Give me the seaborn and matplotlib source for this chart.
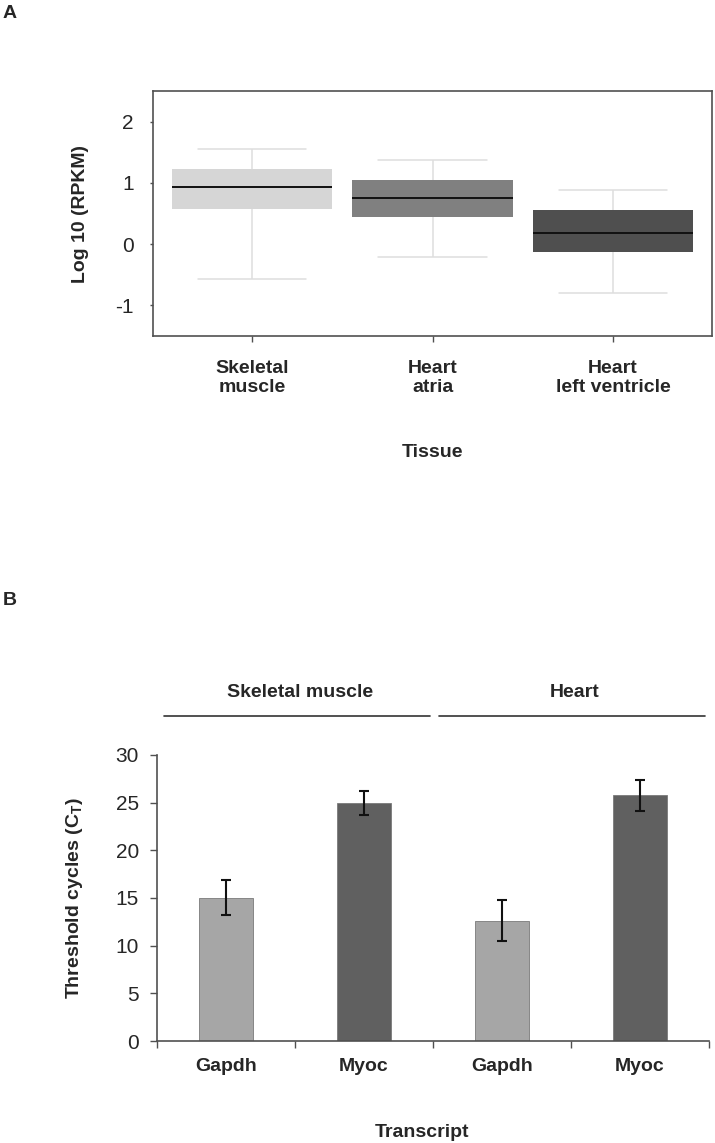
import matplotlib
matplotlib.use("Agg")
import matplotlib.pyplot as plt
from matplotlib import font_manager
import seaborn as sns
import pandas as pd
import numpy as np

# panel A: box summaries (log10 RPKM)
tissues = ["Skeletal\nmuscle", "Heart\natria", "Heart\nleft ventricle"]
box_low = [-0.57, -0.21, -0.80]
box_q1 = [0.58, 0.45, -0.13]
box_med = [0.93, 0.75, 0.18]
box_q3 = [1.22, 1.04, 0.56]
box_high = [1.55, 1.37, 0.89]
box_colors = ["#d6d6d6", "#808080", "#4f4f4f"]

# panel B: qPCR threshold cycles
groups = ["Skeletal muscle", "Skeletal muscle", "Heart", "Heart"]
transcripts = ["Gapdh", "Myoc", "Gapdh", "Myoc"]
ct_mean = [15.05, 24.95, 12.6, 25.75]
ct_err = [1.8, 1.25, 2.15, 1.65]
bar_colors = ["#a6a6a6", "#606060", "#a6a6a6", "#606060"]

sns.set_style("white")
names = {f.name for f in font_manager.fontManager.ttflist}
narrow = "Liberation Sans Narrow" if "Liberation Sans Narrow" in names else "Liberation Sans"
plt.rcParams["font.family"] = [narrow, "DejaVu Sans"]
plt.rcParams["axes.unicode_minus"] = False
wide = ["Liberation Sans", "DejaVu Sans"]
axcol = "#505050"

fig = plt.figure(figsize=(7.15, 11.43), dpi=100)

# ---------- A ----------
ax1 = fig.add_axes([0.214, 0.706, 0.782, 0.2144])
# five values per tissue -> quartiles land exactly on q1/med/q3 with whis=(0,100)
rows = []
for t, lo, q1, md, q3, hi in zip(tissues, box_low, box_q1, box_med, box_q3, box_high):
    for v in (lo, q1, md, q3, hi):
        rows.append({"tissue": t, "value": v})
dfa = pd.DataFrame(rows)
sns.boxplot(data=dfa, x="tissue", y="value", hue="tissue", palette=box_colors,
            order=tissues, hue_order=tissues, legend=False, width=0.89,
            whis=(0, 100), showfliers=False, ax=ax1,
            boxprops=dict(linewidth=0),
            whiskerprops=dict(color="#dedede", linewidth=1.1),
            capprops=dict(color="#dedede", linewidth=1.1),
            medianprops=dict(color="#111111", linewidth=1.4))
# wider caps, as in the original
for cont in ax1.containers:
    for cap in getattr(cont, "caps", []):
        xs = cap.get_xdata()
        c = np.mean(xs)
        cap.set_xdata([c - 0.3, c + 0.3])
ax1.set_xlim(-0.55, 2.55)
ax1.set_ylim(-1.5, 2.5)
ax1.set_yticks([-1, 0, 1, 2])
for s in ax1.spines.values():
    s.set_visible(True)
    s.set_color(axcol)
    s.set_linewidth(1.2)
ax1.tick_params(axis="y", left=True, length=2, width=1, color=axcol, pad=12, labelsize=15)
ax1.tick_params(axis="x", bottom=True, length=4, width=1, color=axcol, pad=13)
for lab in ax1.get_xticklabels():
    lab.set_fontweight("bold")
    lab.set_fontsize(14)
ax1.set_xlabel("Tissue", fontsize=14, fontweight="bold")
ax1.xaxis.set_label_coords(0.5, -0.44)
ax1.set_ylabel("Log 10 (RPKM)", fontsize=14, fontweight="bold", family=wide)
ax1.yaxis.set_label_coords(-0.115, 0.5)

# ---------- B ----------
ax2 = fig.add_axes([0.2196, 0.0892, 0.772, 0.2503])
keys = [f"{g} {t}" for g, t in zip(groups, transcripts)]
dfb = pd.DataFrame({"key": keys, "ct": ct_mean})
sns.barplot(data=dfb, x="key", y="ct", hue="key", palette=bar_colors, legend=False,
            width=0.39, edgecolor="#7a7a7a", linewidth=0.6, ax=ax2)
centers = [p.get_x() + p.get_width() / 2 for p in ax2.patches]
ax2.errorbar(centers, ct_mean, yerr=ct_err, fmt="none", ecolor="#111111",
             elinewidth=1.5, capsize=3.8, capthick=1.5)
ax2.set_xlim(-0.5, 3.5)
ax2.set_ylim(0, 30)
ax2.set_yticks(range(0, 31, 5))
sns.despine(ax=ax2)
for s in ("left", "bottom"):
    ax2.spines[s].set_color(axcol)
    ax2.spines[s].set_linewidth(1.2)
ax2.set_xticks(range(4))
ax2.set_xticklabels(transcripts, fontsize=14, fontweight="bold")
ax2.set_xticks(np.arange(-0.5, 4, 1), minor=True)
ax2.tick_params(axis="x", which="major", length=0, pad=12)
ax2.tick_params(axis="x", which="minor", bottom=True, length=5, width=1, color=axcol)
ax2.tick_params(axis="y", left=True, length=5, width=1, color=axcol, pad=8, labelsize=15)
ax2.set_xlabel("Transcript", fontsize=14, fontweight="bold")
ax2.xaxis.set_label_coords(0.48, -0.29)
ax2.set_ylabel("Threshold cycles (C$_\\mathregular{T}$)", fontsize=14,
               fontweight="bold", family=wide)
ax2.yaxis.set_label_coords(-0.13, 0.5)

# group brackets above the bars
for gname, (x0, x1) in [("Skeletal muscle", (-0.45, 1.48)), ("Heart", (1.54, 3.47))]:
    ax2.plot([x0, x1], [34.1, 34.1], color="#333333", lw=1.2, clip_on=False)
    ax2.text((x0 + x1) / 2 + 0.02, 36.5, gname, ha="center", va="center",
             fontsize=14, fontweight="bold")

fig.text(0.004, 0.988, "A", fontsize=14, fontweight="bold", family=wide, va="center")
fig.text(0.004, 0.475, "B", fontsize=14, fontweight="bold", family=wide, va="center")

fig.savefig("out.png", dpi=100)
